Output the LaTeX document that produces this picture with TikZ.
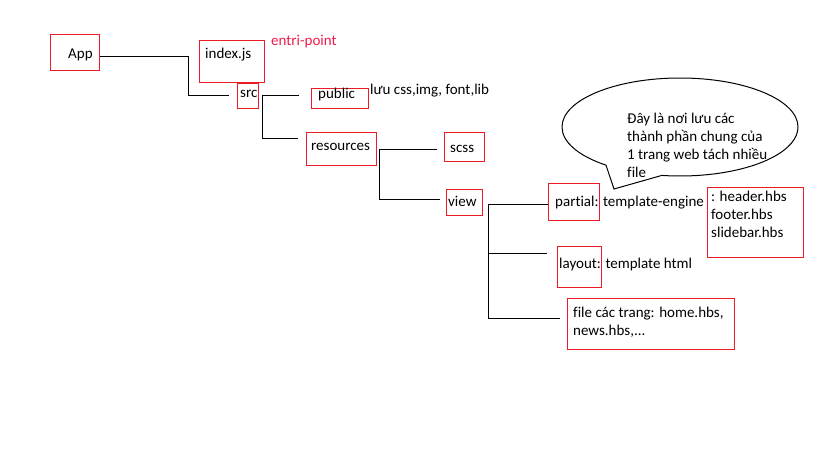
\documentclass[tikz,border=0pt]{standalone}
\usepackage{fontspec}
\setmainfont{Carlito}[Ligatures=NoCommon]
\usetikzlibrary{positioning, shapes.callouts}
\definecolor{PaintRed}{HTML}{ED1C24}
\definecolor{NoteRed}{HTML}{EC1C4C}
\tikzset{
  redbox/.style={rectangle, draw=PaintRed, line width=1pt, inner sep=0pt, anchor=north west},
  boxtext/.style={inner sep=0pt, anchor=west, text height=11pt, text depth=3pt, font=\fontsize{15}{18}\selectfont},
  blocktext/.style={inner sep=0pt, anchor=north west, align=left, font=\fontsize{15}{18}\selectfont},
  treeline/.style={draw=black, line width=1pt},
  notebubble/.style={ellipse callout, draw=black, line width=1pt, inner sep=0pt, callout pointer arc=30}
}
\begin{document}
\begin{tikzpicture}[x=1pt, y=-1pt]
  \useasboundingbox (0,0) rectangle (819,460);
  % boxes
  \node[redbox, minimum width=49, minimum height=36] (bApp) at (50,34) {};
  \node[redbox, minimum width=65, minimum height=42] (bIndex) at (199,40) {};
  \node[redbox, minimum width=21, minimum height=25] (bSrc) at (237,83) {};
  \node[redbox, minimum width=57, minimum height=20] (bPublic) at (311,88) {};
  \node[redbox, minimum width=70, minimum height=33] (bRes) at (306,132) {};
  \node[redbox, minimum width=40, minimum height=29] (bScss) at (444,132) {};
  \node[redbox, minimum width=36, minimum height=26] (bView) at (446,189) {};
  \node[redbox, minimum width=51, minimum height=37] (bPartial) at (548,183) {};
  \node[redbox, minimum width=96, minimum height=70] (bParts) at (707,187) {};
  \node[redbox, minimum width=44, minimum height=41] (bLayout) at (557,246) {};
  \node[redbox, minimum width=167, minimum height=51] (bFiles) at (567,298) {};
  % texts
  \node[boxtext] (tApp) at (68,55) {App};
  \node[boxtext] (tIndex) at (205,55) {index.js};
  \node[boxtext, text=NoteRed] (tEntry) at (271,42) {entri-point};
  \node[boxtext] (tSrc) at (240,93) {src};
  \node[boxtext] (tPublic) at (318,95) {public};
  \node[boxtext] (tPublicNote) at (370,90) {lưu css,img, font,lib};
  \node[boxtext] (tRes) at (311,146) {resources};
  \node[boxtext] (tScss) at (450,148) {scss};
  \node[boxtext] (tView) at (448,202) {view};
  \node[boxtext] (tPartial) at (555,202) {partial: template-engine};
  \node[blocktext] (tParts) at (711,191) {: header.hbs\\footer.hbs\\slidebar.hbs};
  \node[boxtext] (tLayout) at (559,264) {layout: template html};
  \node[blocktext] (tFiles) at (573,307) {file các trang: home.hbs,\\news.hbs,...};
  % note bubble
  \node[notebubble, minimum width=236, minimum height=98, callout absolute pointer={(614,189)}] (bubble) at (680,127) {};
  \node[blocktext] (tNote) at (627,113) {Đây là nơi lưu các\\thành phần chung của\\1 trang web tách nhiều\\file};
  % tree connectors
  \coordinate (appBend) at (188,57);
  \coordinate (srcIn) at (229,95);
  \coordinate (srcFork) at (262,95);
  \coordinate (publicIn) at (299,95);
  \coordinate (resIn) at (298,138);
  \coordinate (resFork) at (379,149);
  \coordinate (scssIn) at (437,149);
  \coordinate (viewIn) at (440,199);
  \coordinate (viewFork) at (488,204);
  \coordinate (layoutIn) at (547,253);
  \coordinate (filesIn) at (560,318);
  \draw[treeline] (bApp.east |- appBend) -- (appBend) |- (srcIn);
  \draw[treeline] (srcFork) -- (publicIn);
  \draw[treeline] (srcFork) |- (resIn);
  \draw[treeline] (resFork) -- (scssIn);
  \draw[treeline] (resFork) |- (viewIn);
  \draw[treeline] (viewFork) -- (bPartial.west |- viewFork);
  \draw[treeline] (viewFork) |- (layoutIn);
  \draw[treeline] (viewFork) |- (filesIn);
\end{tikzpicture}
\end{document}
